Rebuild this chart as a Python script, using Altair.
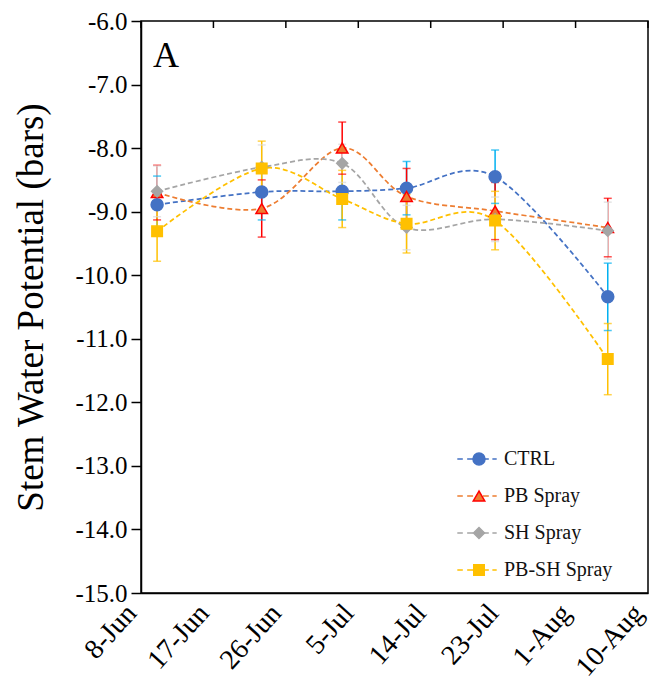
import altair as alt
import pandas as pd

# ---------------- data ----------------
dates = ["2021-06-10", "2021-06-23", "2021-07-03", "2021-07-11", "2021-07-22", "2021-08-05"]
series_names = ["CTRL", "PB Spray", "SH Spray", "PB-SH Spray"]

ctrl = [-8.89, -8.69, -8.68, -8.63, -8.45, -10.34]
ctrl_err = [0.45, 0.44, 0.45, 0.42, 0.42, 0.53]
pb = [-8.70, -8.95, -8.00, -8.76, -8.99, -9.25]
pb_err = [0.43, 0.45, 0.41, 0.44, 0.45, 0.46]
sh = [-8.68, -8.30, -8.24, -9.25, -9.12, -9.30]
sh_err = [0.40, 0.35, 0.30, 0.35, 0.35, 0.45]
pbsh = [-9.31, -8.32, -8.80, -9.19, -9.14, -11.32]
pbsh_err = [0.47, 0.43, 0.45, 0.46, 0.46, 0.56]

tick_dates = ["2021-06-08", "2021-06-17", "2021-06-26", "2021-07-05",
              "2021-07-14", "2021-07-23", "2021-08-01", "2021-08-10"]
y_ticks = [-15, -14, -13, -12, -11, -10, -9, -8, -7, -6]
panel_label = ["A"]

line_colors = ["#4472C4", "#ED7D31", "#A5A5A5", "#FFC000"]
marker_strokes = ["#4472C4", "#FF0000", "#A5A5A5", "#FFC000"]
err_colors = ["#00B0F0", "#FF0000", "#D9D9D9", "#FFC000"]
shapes = ["circle", "triangle-up", "diamond", "square"]
marker_sizes = [144, 110, 150, 137]

rows = []
for name, vals, errs in zip(series_names, [ctrl, pb, sh, pbsh],
                            [ctrl_err, pb_err, sh_err, pbsh_err]):
    for d, v, e in zip(dates, vals, errs):
        rows.append({"date": d, "series": name, "value": v, "err": e,
                     "lower": v - e, "upper": v + e})
df = pd.DataFrame(rows)
legend_df = pd.DataFrame({"series": series_names})
ticks_df = pd.DataFrame({"date": tick_dates})
label_df = pd.DataFrame({"label": panel_label})

FONT = "Liberation Serif"

def dt(s):
    y, m, d = [int(p) for p in s.split("-")]
    return alt.DateTime(year=y, month=m, date=d, utc=True)

x_scale = alt.Scale(type="utc", domain=[dt(tick_dates[0]), dt(tick_dates[-1])])
x_axis = alt.Axis(values=[dt(t) for t in tick_dates],
                  labelExpr="utcFormat(datum.value, '%-d-%b')",
                  labelAngle=312, labelAlign="right", labelBaseline="top",
                  labelFont=FONT, labelFontSize=28, labelColor="black",
                  labelPadding=6, labelOffset=-20, labelOverlap=False, labelFlush=False,
                  labelBound=False, ticks=False, domainColor="black", domainWidth=1.5,
                  grid=False, title=None)
X = alt.X("date:T", scale=x_scale, axis=x_axis)

y_scale = alt.Scale(domain=[-15, -6], nice=False, zero=False)
y_axis = alt.Axis(values=y_ticks,
                  labelExpr="replace(format(datum.value, '.1f'), '\u2212', '-')",
                  labelFont=FONT, labelFontSize=25,
                  labelColor="black", labelPadding=4, tickSize=10, tickWidth=1.5,
                  tickColor="black", domainColor="black", domainWidth=1.5, grid=False,
                  title="Stem Water Potential (bars)", titleFont=FONT, titleFontSize=37,
                  titleFontWeight="normal", titleColor="black", titlePadding=24)

base = alt.Chart(df)

def col(scale_range):
    return alt.Color("series:N", scale=alt.Scale(domain=series_names, range=scale_range), legend=None)

lines = base.mark_line(interpolate="cardinal", strokeDash=[5, 3], strokeWidth=1.75).encode(
    x=X, y=alt.Y("value:Q", scale=y_scale, axis=y_axis), color=col(line_colors))

bars = base.mark_rule(strokeWidth=1.5).encode(
    x=X, y=alt.Y("lower:Q", scale=y_scale, axis=None), y2="upper:Q", color=col(err_colors))

caps_lo = base.mark_tick(orient="horizontal", size=8, thickness=1.5).encode(
    x=X, y=alt.Y("lower:Q", scale=y_scale, axis=None), color=col(err_colors))
caps_hi = base.mark_tick(orient="horizontal", size=8, thickness=1.5).encode(
    x=X, y=alt.Y("upper:Q", scale=y_scale, axis=None), color=col(err_colors))

def marker_enc(chart_y):
    return dict(
        y=chart_y,
        color=col(line_colors),
        stroke=alt.Stroke("series:N", scale=alt.Scale(domain=series_names, range=marker_strokes), legend=None),
        shape=alt.Shape("series:N", scale=alt.Scale(domain=series_names, range=shapes), legend=None),
        size=alt.Size("series:N", scale=alt.Scale(domain=series_names, range=marker_sizes), legend=None),
    )

points = base.mark_point(filled=True, opacity=1, strokeWidth=1.5).encode(
    x=X, **marker_enc(alt.Y("value:Q", scale=y_scale, axis=None)))

top_ticks = alt.Chart(ticks_df).mark_rule(color="black", strokeWidth=1.5).encode(
    x=X, y=alt.value(0), y2=alt.value(7))

panel = alt.Chart(label_df).mark_text(font=FONT, fontSize=36, align="left",
                                      baseline="alphabetic", color="black").encode(
    x=alt.value(12), y=alt.value(46), text="label:N")

# legend built from the series list
DASH_PATH = "M-1,0H-0.72M-0.5,0H-0.2M0.3,0H0.6M0.78,0H1"
leg_y = alt.Y("series:N", scale=alt.Scale(domain=series_names, range=[438, 549], padding=0), axis=None)
leg_lines = alt.Chart(legend_df).mark_point(shape=DASH_PATH, filled=False, size=1552,
                                            strokeWidth=1.5, opacity=1).encode(
    x=alt.value(336), y=leg_y, color=col(line_colors))
leg_pts = alt.Chart(legend_df).mark_point(filled=True, opacity=1, strokeWidth=1.5).encode(
    x=alt.value(338), **marker_enc(leg_y))
leg_txt = alt.Chart(legend_df).mark_text(font=FONT, fontSize=20, align="left",
                                         baseline="middle", color="#111").encode(
    x=alt.value(363), y=leg_y, text="series:N")

chart = alt.layer(lines, bars, caps_lo, caps_hi, points, top_ticks, panel,
                  leg_lines, leg_pts, leg_txt).resolve_scale(
    y="independent", color="independent"
).properties(
    width=507, height=572,
    autosize=alt.AutoSizeParams(type="none"),
    padding={"left": 133, "top": 13, "right": 2, "bottom": 87},
).configure_view(stroke="black", strokeWidth=1.5)

chart.save("out.html", embed_options={"renderer": "svg", "actions": False})
